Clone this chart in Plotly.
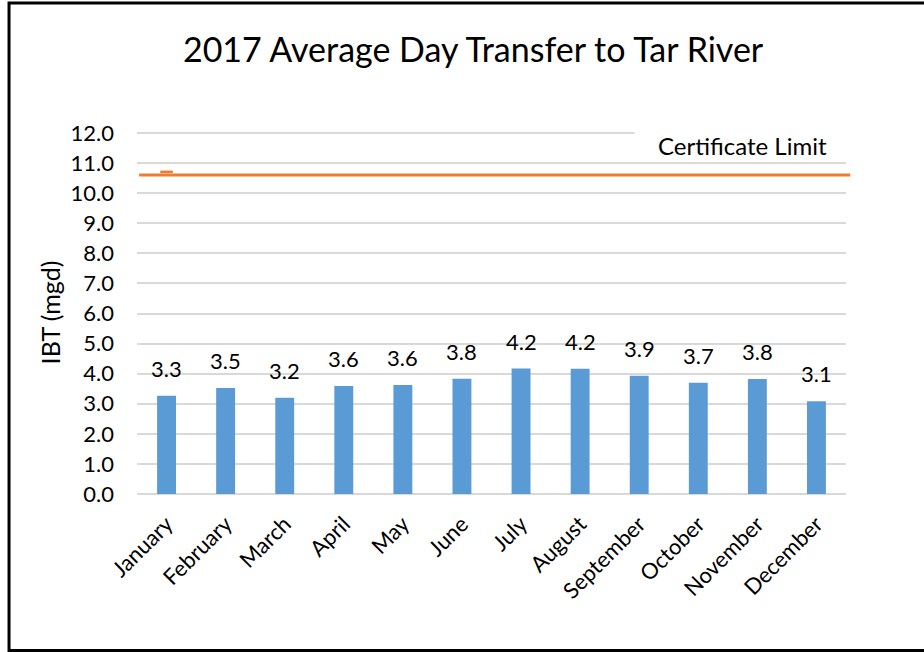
import plotly.graph_objects as go

months = ["January", "February", "March", "April", "May", "June", "July",
          "August", "September", "October", "November", "December"]
ibt = [3.27, 3.52, 3.20, 3.59, 3.62, 3.83, 4.17, 4.16, 3.93, 3.70, 3.82, 3.08]
certificate_limit = 10.6
limit_marker = 10.71
y_ticks = [0, 1, 2, 3, 4, 5, 6, 7, 8, 9, 10, 11, 12]

FONT = "Lato"
BLUE = "#5B9BD5"
ORANGE = "#ED7D31"
GRID = "#D9D9D9"

fig = go.Figure()
fig.add_trace(go.Bar(x=months, y=ibt, marker_color=BLUE, marker_line_width=0,
                     showlegend=False, hoverinfo="x+y"))
fig.add_trace(go.Scatter(x=[months[0]], y=[limit_marker], mode="markers",
                         marker=dict(symbol="line-ew", size=9,
                                     line=dict(color=ORANGE, width=2.5)),
                         showlegend=False, hoverinfo="skip"))

for m, v in zip(months, ibt):
    fig.add_annotation(x=m, y=v, text=f"{v:.1f}", showarrow=False,
                       yanchor="bottom", yshift=12,
                       font=dict(family=FONT, size=22, color="#000000"))

# certificate limit line
fig.add_shape(type="line", xref="paper", yref="y", x0=0.003, x1=1.006,
              y0=certificate_limit, y1=certificate_limit,
              line=dict(color=ORANGE, width=3))

fig.add_annotation(xref="paper", yref="paper", x=0.701, y=0.962,
                   xanchor="left", yanchor="middle", text="Certificate Limit",
                   showarrow=False, bgcolor="#FFFFFF", width=213, height=28,
                   font=dict(family=FONT, size=24, color="#000000"))

# outer frame
fig.add_shape(type="rect", xref="paper", yref="paper",
              x0=-0.1805, x1=1.118, y0=-0.431, y1=1.3526,
              line=dict(color="#000000", width=3), fillcolor="rgba(0,0,0,0)",
              layer="above")

fig.update_layout(
    width=924, height=652,
    margin=dict(l=137, r=78, t=131, b=158, autoexpand=False),
    paper_bgcolor="#FFFFFF", plot_bgcolor="#FFFFFF",
    bargap=0.68,
    title=dict(text="2017 Average Day Transfer to Tar River",
               x=0.512, xanchor="center", y=0.923, yanchor="middle",
               font=dict(family=FONT, size=34, color="#000000")),
    xaxis=dict(range=[-0.5, len(months) - 0.5], tickangle=-45,
               showgrid=False, zeroline=False, showline=False,
               ticks="", ticklabelstandoff=12,
               tickfont=dict(family=FONT, size=22, color="#000000")),
    yaxis=dict(range=[0, 12 * 363 / 361], tickvals=y_ticks,
               ticktext=[f"{t:.1f}" for t in y_ticks],
               showgrid=True, gridcolor=GRID, gridwidth=1.5,
               zeroline=True, zerolinecolor=GRID, zerolinewidth=1.5,
               showline=False, ticks="", ticklabelstandoff=22,
               tickfont=dict(family=FONT, size=22, color="#000000"),
               title=dict(text="IBT (mgd)", standoff=2,
                          font=dict(family=FONT, size=25, color="#000000"))),
)

fig.write_html("out.html", config={"displayModeBar": False},
               post_script="document.body.style.margin='0';document.body.style.overflow='hidden';")
